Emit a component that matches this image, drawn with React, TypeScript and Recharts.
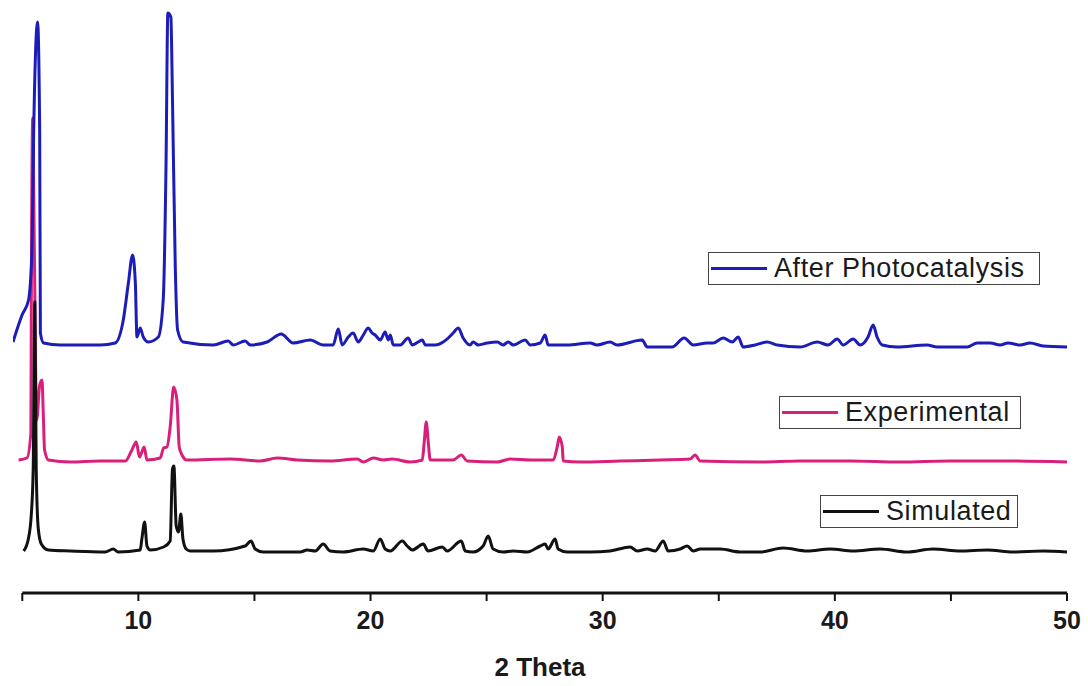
import React from 'react';
import { LineChart, Line, XAxis, YAxis, ReferenceLine } from 'recharts';

// [2θ, intensity above the pattern's own baseline] (a.u.)
const afterPattern: [number, number][] = [
  [4.6, 5], [4.99, 32], [5.27, 47], [5.42, 100], [5.49, 214], [5.66, 325], [5.75, 214], [5.78, 14],
  [5.92, 4], [6.64, 2], [8.36, 2], [9.0, 4], [9.35, 27], [9.57, 64], [9.75, 92], [9.87, 64],
  [9.94, 10], [10.08, 19], [10.21, 10], [10.43, 5], [10.86, 10], [11.07, 47], [11.19, 180],
  [11.27, 334], [11.4, 330], [11.47, 247], [11.59, 80], [11.69, 17], [11.93, 5], [13.23, 2],
  [13.87, 6], [14.09, 2], [14.6, 6], [14.82, 2], [15.55, 5], [16.15, 13], [16.67, 4], [17.4, 7],
  [17.96, 2], [18.39, 2], [18.61, 18], [18.78, 2], [19.04, 10], [19.25, 14], [19.47, 5],
  [19.69, 12], [19.9, 19], [20.07, 14], [20.2, 12], [20.42, 7], [20.63, 15], [20.76, 7],
  [20.85, 12], [20.98, 2], [21.28, 2], [21.62, 9], [21.8, 2], [22.05, 5], [22.23, 7], [22.36, 2],
  [22.79, 2], [23.13, 5], [23.35, 9], [23.56, 14], [23.78, 19], [23.99, 9], [24.29, 2],
  [24.42, 5], [24.64, 2], [25.03, 4], [25.46, 5], [25.71, 2], [25.93, 5], [26.15, 2], [26.66, 7],
  [26.88, 2], [27.31, 4], [27.52, 12], [27.65, 2], [28.47, 2], [29.46, 4], [29.76, 2], [30.32, 5],
  [30.62, 2], [31.7, 7], [31.92, 0], [32.99, 0], [33.51, 9], [33.9, 2], [34.5, 4], [34.76, 4],
  [35.19, 9], [35.58, 5], [35.84, 10], [36.05, 0], [36.57, 2], [37.08, 5], [37.52, 2], [38.51, 0],
  [39.24, 5], [39.71, 2], [40.1, 8], [40.36, 2], [40.79, 8], [41.09, 2], [41.43, 10], [41.65, 22],
  [41.82, 10], [42.04, 2], [42.68, 0], [43.97, 2], [44.41, 0], [45.7, 0], [46.13, 4], [46.69, 4],
  [47.12, 2], [47.46, 4], [47.98, 2], [48.41, 4], [48.97, 1], [50, 0],
];

const experimentalPattern: [number, number][] = [
  [4.84, 2], [5.2, 4], [5.37, 29], [5.39, 162], [5.45, 344], [5.52, 212], [5.62, 42], [5.75, 77],
  [5.85, 82], [5.9, 52], [5.96, 12], [6.13, 2], [7.07, 0], [8.36, 1], [9.44, 1], [9.72, 12],
  [9.91, 20], [10.05, 5], [10.25, 15], [10.37, 2], [10.94, 4], [11.09, 14], [11.23, 15],
  [11.37, 35], [11.52, 75], [11.66, 62], [11.76, 15], [11.88, 7], [12.09, 2], [13.96, 3],
  [15.25, 1], [15.98, 4], [16.84, 2], [18.26, 1], [19.43, 3], [19.69, 0], [20.12, 4], [20.55, 2],
  [20.93, 3], [21.71, 0], [22.23, 2], [22.31, 19], [22.4, 40], [22.49, 19], [22.57, 2],
  [23.56, 2], [23.91, 7], [24.16, 1], [25.46, 0], [26.02, 3], [26.88, 2], [27.87, 2], [28.04, 15],
  [28.13, 25], [28.26, 15], [28.3, 1], [29.03, 0], [30.75, 1], [32.48, 2], [33.77, 3], [33.98, 7],
  [34.2, 1], [36.78, 0], [38.51, 1], [40.66, 1], [42.81, 0], [44.97, 1], [47.12, 1], [50, 0],
];

const simulatedPattern: [number, number][] = [
  [5.06, 1], [5.26, 13], [5.39, 38], [5.47, 83], [5.54, 250], [5.6, 83], [5.69, 23], [5.82, 8],
  [6.12, 2], [7.07, 1], [8.57, 0], [8.92, 3], [9.13, 0], [10.08, 2], [10.15, 13], [10.27, 30],
  [10.37, 6], [10.51, 2], [11.09, 5], [11.37, 11], [11.47, 83], [11.53, 86], [11.63, 26],
  [11.73, 20], [11.83, 38], [11.92, 13], [12.06, 3], [12.24, 1], [13.23, 1], [14.6, 6],
  [14.85, 11], [15.03, 3], [15.38, 0], [16.97, 0], [17.27, 2], [17.62, 1], [17.96, 8], [18.26, 1],
  [18.82, 0], [19.69, 3], [20.12, 1], [20.42, 13], [20.63, 3], [20.85, 1], [21.37, 11], [21.58, 6],
  [21.8, 2], [22.27, 8], [22.48, 1], [23.09, 5], [23.3, 1], [23.91, 11], [24.08, 1], [24.42, 0],
  [24.85, 6], [25.07, 16], [25.28, 3], [25.71, 0], [26.15, 1], [26.75, 0], [27.31, 6], [27.52, 8],
  [27.65, 3], [27.95, 13], [28.08, 3], [28.47, 0], [29.46, 0], [30.32, 1], [31.18, 5], [31.49, 1],
  [31.92, 3], [32.26, 1], [32.61, 11], [32.82, 1], [33.34, 3], [33.64, 6], [33.9, 1], [34.2, 3],
  [35.06, 3], [35.92, 0], [36.78, 0], [37.77, 4], [38.81, 1], [39.8, 3], [40.79, 1], [41.95, 3],
  [43.11, 0], [44.23, 3], [45.4, 1], [46.56, 2], [47.68, 0], [48.97, 1], [50, 0],
];

// vertical stacking of the three patterns
const AFTER_OFFSET = 246;
const EXPERIMENTAL_OFFSET = 131;
const SIMULATED_OFFSET = 41;

const xTicks = [5, 10, 15, 20, 25, 30, 35, 40, 45, 50];

const BLUE = '#1c1cb8';
const PINK = '#d8207a';
const BLACK = '#111111';

const shift = (pts: [number, number][], off: number) => pts.map(([x, y]) => ({ x, y: y + off }));

const afterData = shift(afterPattern, AFTER_OFFSET);
const experimentalData = shift(experimentalPattern, EXPERIMENTAL_OFFSET);
const simulatedData = shift(simulatedPattern, SIMULATED_OFFSET);

const font = '"Liberation Sans", Arial, sans-serif';

const LegendBox = ({ left, top, width, color, text }: { left: number; top: number; width: number; color: string; text: string }) => (
  <div
    style={{
      position: 'absolute', left, top, width, height: 33, boxSizing: 'border-box',
      border: '1px solid #444', display: 'flex', alignItems: 'center', background: '#fff',
    }}
  >
    <span style={{ width: 56, height: 3, background: color, marginLeft: 2 }} />
    <span style={{ marginLeft: 7, fontFamily: font, fontSize: 27, color: '#1a1a1a', letterSpacing: 0.6, lineHeight: 1 }}>
      {text}
    </span>
  </div>
);

export default function App() {
  return (
    <div style={{ position: 'absolute', left: 0, top: 0, width: 1088, height: 686, background: '#fff' }}>
      <LineChart width={1088} height={686} margin={{ top: 8, right: 21, left: 13, bottom: 0 }}>
        <XAxis
          type="number"
          dataKey="x"
          domain={[4.6, 50]}
          ticks={xTicks}
          allowDataOverflow
          axisLine={false}
          tickLine={{ stroke: '#111', strokeWidth: 2 }}
          tickSize={8}
          tickMargin={10}
          height={93}
          tickFormatter={(v: number) => (v % 10 === 0 ? String(v) : '')}
          tick={{ fill: '#1a1a1a', fontSize: 25, fontWeight: 'bold', fontFamily: font }}
          label={{ value: '2 Theta', position: 'insideBottom', offset: 10, fill: '#1a1a1a', fontSize: 26, fontWeight: 'bold', fontFamily: font }}
        />
        <YAxis type="number" domain={[0, 585]} hide allowDataOverflow />
        <ReferenceLine segment={[{ x: 5, y: 0 }, { x: 50, y: 0 }]} stroke="#111" strokeWidth={3} />
        <Line data={experimentalData} dataKey="y" type="monotone" stroke={PINK} strokeWidth={3} dot={false} isAnimationActive={false} strokeLinejoin="round" />
        <Line data={afterData} dataKey="y" type="monotone" stroke={BLUE} strokeWidth={3} dot={false} isAnimationActive={false} strokeLinejoin="round" />
        <Line data={simulatedData} dataKey="y" type="monotone" stroke={BLACK} strokeWidth={3} dot={false} isAnimationActive={false} strokeLinejoin="round" />
      </LineChart>
      <LegendBox left={708} top={252} width={332} color={BLUE} text="After Photocatalysis" />
      <LegendBox left={779} top={396} width={242} color={PINK} text="Experimental" />
      <LegendBox left={820} top={495} width={198} color={BLACK} text="Simulated" />
    </div>
  );
}
